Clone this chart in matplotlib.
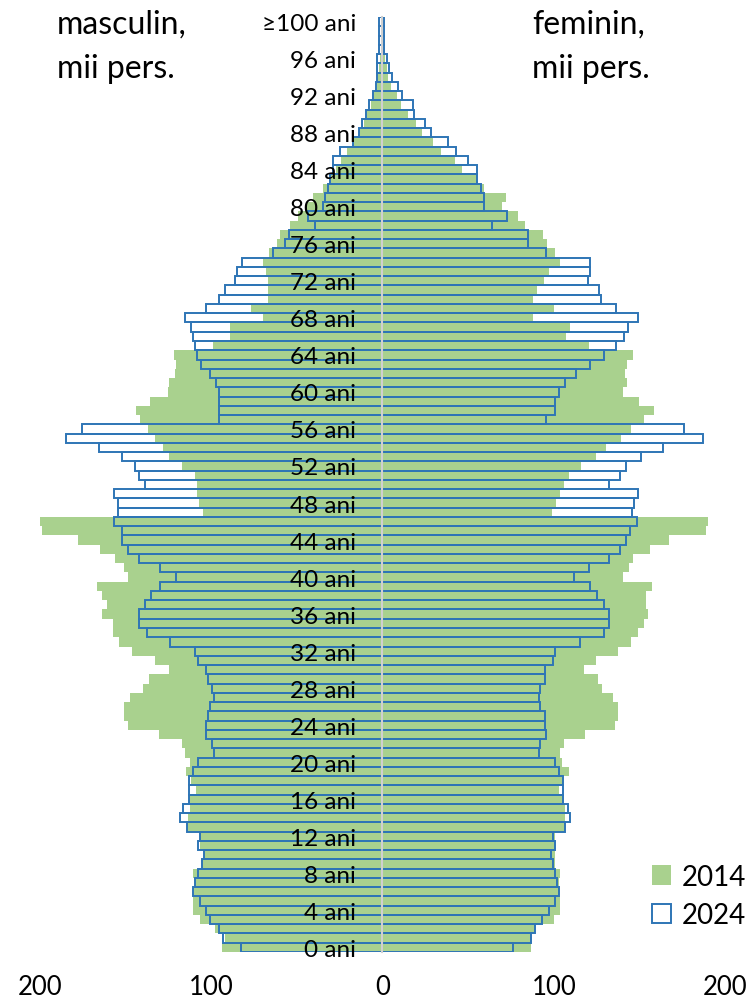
# Piramida varstelor 2014 vs 2024, mii persoane
import numpy as np
import matplotlib.pyplot as plt
from matplotlib.patches import Patch

plt.rcParams['font.family'] = ['Lato', 'DejaVu Sans']

ages = np.arange(101)

# barbati 2014 (mii pers.), varsta 0..100
male_2014 = [93.8, 91.9, 98.0, 106.4, 110.9, 110.9, 110.3, 110.3, 110.9, 105.4,
             104.5, 106.4, 106.8, 114.0, 113.8, 112.6, 112.8, 108.7, 111.8, 114.5,
             112.2, 115.1, 117.0, 130.6, 148.7, 151.0, 151.0, 147.7, 139.9, 136.4,
             124.4, 133.0, 146.5, 153.9, 157.2, 157.2, 163.6, 161.0, 163.6, 167.0,
             148.7, 151.0, 156.2, 164.9, 178.1, 198.8, 200.9, 105.1, 107.0, 108.3,
             108.3, 109.7, 117.0, 124.4, 128.1, 133.0, 136.8, 141.7, 143.8, 135.5,
             125.4, 124.4, 120.9, 120.5, 121.9, 99.0, 89.0, 89.0, 69.6, 76.9,
             67.1, 67.1, 67.1, 68.2, 69.6, 66.1, 61.8, 59.9, 54.0, 49.2,
             44.4, 40.5, 34.7, 30.0, 27.0, 24.0, 21.0, 17.0, 14.0, 11.0,
             9.0, 7.0, 5.0, 3.5, 2.5, 2.0, 1.5, 1.0, 0.7, 0.4, 0.3]

# barbati 2024
male_2024 = [82.6, 93.4, 95.7, 101.0, 103.1, 106.8, 110.6, 109.3, 108.0, 105.4,
             104.5, 107.7, 106.8, 114.1, 118.0, 116.5, 112.8, 112.8, 112.8, 110.6,
             107.7, 98.3, 99.6, 103.1, 103.1, 101.9, 101.0, 98.3, 99.6, 101.9,
             103.1, 108.0, 109.3, 123.8, 137.4, 142.2, 142.2, 138.7, 134.9, 130.0,
             120.3, 130.0, 142.2, 148.4, 151.9, 151.9, 156.8, 154.5, 154.5, 156.8,
             138.7, 142.2, 144.8, 151.9, 165.5, 184.9, 175.2, 95.7, 95.7, 95.7,
             95.7, 97.1, 101.0, 105.8, 108.3, 109.3, 110.6, 111.8, 115.5, 102.9,
             95.7, 92.2, 86.0, 84.7, 82.2, 64.1, 57.0, 54.5, 39.5, 43.4,
             34.7, 33.7, 31.8, 30.8, 28.9, 28.9, 25.0, 17.2, 13.8, 11.8,
             9.5, 8.0, 5.6, 4.0, 3.0, 3.0, 3.1, 2.0, 2.0, 2.0, 2.0]

# femei 2014
female_2014 = [86.8, 87.0, 88.9, 100.0, 103.9, 103.9, 103.3, 102.9, 103.9, 101.0,
               101.0, 101.0, 101.0, 106.8, 106.8, 106.8, 105.4, 102.9, 105.4, 108.7,
               104.8, 103.9, 106.2, 118.4, 135.5, 137.8, 137.8, 134.5, 128.1, 125.8,
               117.4, 124.6, 137.8, 145.2, 149.0, 152.7, 154.8, 153.9, 153.9, 157.2,
               140.7, 144.0, 146.5, 156.2, 167.3, 189.1, 190.1, 99.0, 101.4, 103.9,
               106.2, 108.7, 116.1, 124.6, 130.6, 139.1, 145.2, 152.7, 158.7, 150.0,
               140.7, 142.6, 141.7, 142.6, 146.5, 120.7, 107.4, 109.7, 88.0, 100.4,
               88.0, 90.3, 94.2, 97.5, 103.9, 101.0, 96.1, 93.8, 83.0, 79.3,
               69.6, 71.9, 59.5, 55.0, 46.3, 42.6, 34.3, 29.3, 23.0, 19.6,
               14.7, 10.9, 8.3, 5.0, 3.5, 2.5, 1.5, 1.0, 0.7, 0.5, 0.3]

# femei 2024
female_2024 = [76.4, 87.0, 88.8, 93.2, 97.1, 100.6, 103.3, 101.9, 100.6, 99.4,
               98.4, 100.6, 99.4, 106.8, 109.3, 108.1, 105.4, 105.4, 105.4, 102.9,
               100.6, 91.3, 92.2, 95.7, 94.6, 94.6, 92.2, 91.3, 92.2, 94.6,
               94.6, 99.4, 100.6, 115.5, 129.1, 132.4, 132.4, 129.1, 125.2, 121.3,
               112.0, 120.3, 132.4, 138.4, 142.1, 144.6, 148.4, 145.9, 147.1, 149.4,
               132.4, 138.4, 142.2, 150.8, 164.0, 187.2, 176.2, 95.7, 100.6, 100.6,
               102.9, 106.8, 113.0, 121.3, 129.1, 136.2, 141.1, 143.2, 149.4, 136.2,
               127.5, 126.2, 120.0, 121.3, 121.3, 95.7, 84.9, 84.9, 64.1, 72.5,
               59.3, 59.3, 57.7, 55.4, 55.4, 50.2, 43.2, 38.4, 28.3, 24.8,
               18.6, 17.6, 11.4, 8.9, 5.4, 4.0, 2.5, 1.0, 1.0, 1.0, 1.0]

tick_ages = list(range(0, 100, 4)) + [100]
tick_labels = [f"{a} ani" for a in range(0, 100, 4)] + ["≥100 ani"]

green = '#A9D18E'
blue = '#2E75B6'

fig = plt.figure(figsize=(7.53, 10.04), dpi=100)
ax = fig.add_axes([40/753, 51/1004, 685/753, 935/1004])

m14 = -np.array(male_2014)
m24 = -np.array(male_2024)

ax.barh(ages, m14, height=1.0, color=green, edgecolor='none', zorder=1)
ax.barh(ages, female_2014, height=1.0, color=green, edgecolor='none', zorder=1)
ax.barh(ages, m24, height=1.0, facecolor='none', edgecolor=blue, linewidth=1.4, zorder=1.5)
ax.barh(ages, female_2024, height=1.0, facecolor='none', edgecolor=blue, linewidth=1.4, zorder=1.5)

ax.set_xlim(-200, 200)
ax.set_ylim(-0.5, 100.5)

# spine first: set_position resets the ticks
for s in ['top', 'right', 'bottom']:
    ax.spines[s].set_visible(False)
ax.spines['left'].set_position(('data', 0))
ax.spines['left'].set_color('#D0D0D0')
ax.spines['left'].set_linewidth(1.5)

ax.set_xticks([-200, -100, 0, 100, 200])
ax.set_xticklabels(['200', '100', '0', '100', '200'])
ax.set_yticks(tick_ages)
ax.set_yticklabels(tick_labels)
ax.tick_params(axis='x', length=0, pad=16, labelsize=18.5)
ax.tick_params(axis='y', length=0, pad=19, labelsize=17.5)

fig.text(57/753, 1 - 10/1004, "masculin,\nmii pers.", fontsize=23, va='top', ha='left', linespacing=1.6)
fig.text(532/753, 1 - 10/1004, "feminin,\nmii pers.", fontsize=23, va='top', ha='left', linespacing=1.6)

handles = [Patch(facecolor=green, edgecolor='none'),
           Patch(facecolor='white', edgecolor=blue, linewidth=1.4)]
fig.legend(handles, ['2014', '2024'], loc='center left',
           bbox_to_anchor=(652/753, 1 - 897/1004), frameon=False, fontsize=20,
           borderpad=0, borderaxespad=0, handlelength=0.68, handleheight=0.68,
           handletextpad=0.4, labelspacing=0.45)

plt.savefig('out.png', dpi=100)
